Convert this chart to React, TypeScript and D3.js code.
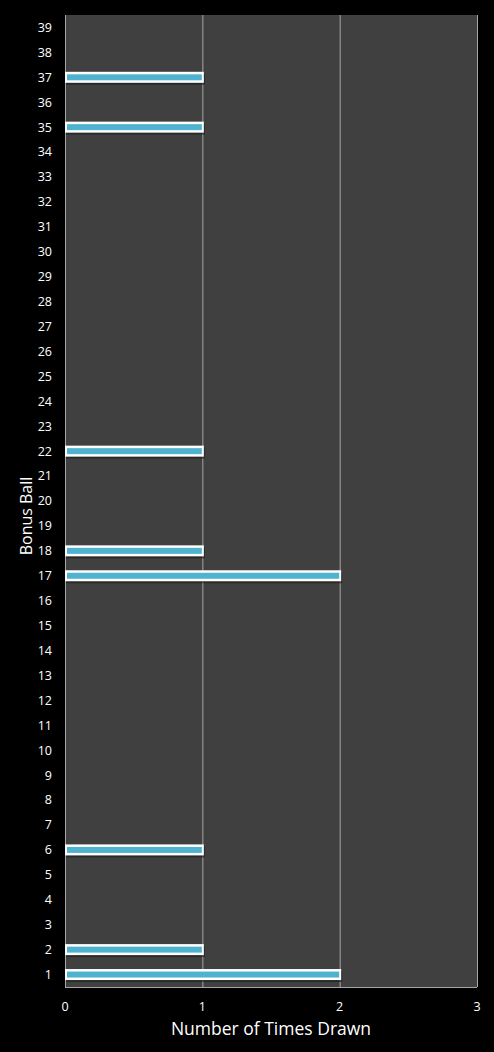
import * as d3 from "d3";

const balls = d3.range(1, 40).map(String);
const drawnBalls = ["1", "2", "6", "17", "18", "22", "35", "37"];
const drawnCounts = [2, 1, 1, 2, 1, 1, 1, 1];
const xTicks = [0, 1, 2, 3];

const W = 494;
const H = 1052;
const margin = { top: 15, right: 17, bottom: 65, left: 65 };

const App = () => {
  const plotW = W - margin.left - margin.right;
  const plotH = H - margin.top - margin.bottom;

  const x = d3.scaleLinear().domain([0, 3]).range([0, plotW]);
  const y = d3.scaleBand().domain(balls.slice().reverse()).range([0, plotH]);
  const barH = 11;

  const counts = new Map(drawnBalls.map((b, i) => [b, drawnCounts[i]]));

  return (
    <svg width={W} height={H} style={{ position: "absolute", left: 0, top: 0, background: "#000" }}>
      <rect width={W} height={H} fill="#000" />
      <g transform={`translate(${margin.left},${margin.top})`}>
        <rect width={plotW} height={plotH} fill="#404040" />
        {xTicks.map((t) => (
          <line key={t} x1={x(t) + 0.5} x2={x(t) + 0.5} y1={0} y2={plotH} stroke="#a6a6a6" strokeWidth={1} />
        ))}
        <line x1={0} x2={plotW} y1={plotH + 0.5} y2={plotH + 0.5} stroke="#a6a6a6" />
        {balls.map((b) => {
          const v = counts.get(b);
          if (!v) return null;
          const cy = (y(b) as number) + y.bandwidth() / 2;
          const w = x(v) + 1.5;
          return (
            <g key={b}>
              <rect x={x(0) + 1} y={cy - barH / 2 + 2} width={w} height={barH} fill="#1a1a1a" opacity={0.6} />
              <rect x={x(0)} y={cy - barH / 2} width={w} height={barH} fill="#ffffff" />
              <rect x={x(0) + 2} y={cy - barH / 2 + 2.5} width={w - 4} height={barH - 5} fill="#4fb3cf" />
            </g>
          );
        })}
        {balls.map((b) => (
          <text
            key={b}
            x={-13}
            y={(y(b) as number) + y.bandwidth() / 2}
            dy="0.35em"
            textAnchor="end"
            fill="#ffffff"
            fontFamily="Open Sans, sans-serif"
            fontSize={12.5}
          >
            {b}
          </text>
        ))}
        {xTicks.map((t) => (
          <text
            key={t}
            x={x(t)}
            y={plotH + 20}
            dy="0.35em"
            textAnchor="middle"
            fill="#ffffff"
            fontFamily="Open Sans, sans-serif"
            fontSize={12.5}
          >
            {t}
          </text>
        ))}
        <text
          x={plotW / 2}
          y={plotH + 42}
          dy="0.35em"
          textAnchor="middle"
          fill="#ffffff"
          fontFamily="Open Sans, sans-serif"
          fontSize={17.5}
        >
          Number of Times Drawn
        </text>
        <text
          transform={`translate(${-39},${plotH / 2 + 15}) rotate(-90)`}
          dy="0.35em"
          textAnchor="middle"
          fill="#ffffff"
          fontFamily="Open Sans, sans-serif"
          fontSize={16}
        >
          Bonus Ball
        </text>
      </g>
    </svg>
  );
};

export default App;
